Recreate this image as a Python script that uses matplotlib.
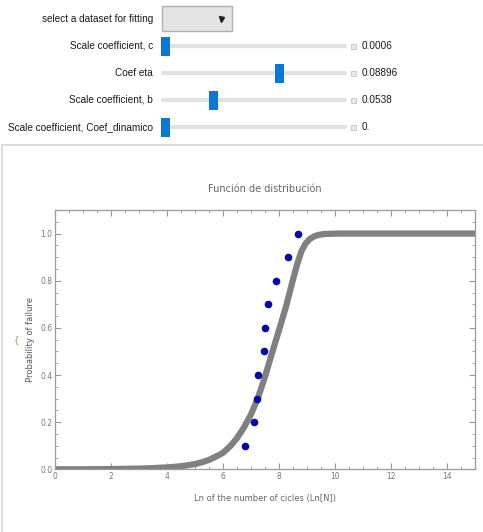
import matplotlib.pyplot as plt
from matplotlib.patches import Rectangle
from matplotlib.ticker import MultipleLocator

# data
slider_labels = ["Scale coefficient, c", "Coef eta", "Scale coefficient, b",
                 "Scale coefficient, Coef_dinamico"]
slider_values = ["0.0006", "0.08896", "0.0538", "0."]
slider_frac = [0.0, 0.62, 0.26, 0.0]  # handle position along the track

# observed points (ln N, probability of failure)
obs_x = [6.77, 7.09, 7.21, 7.24, 7.46, 7.50, 7.61, 7.90, 8.31, 8.69]
obs_y = [0.1, 0.2, 0.3, 0.4, 0.5, 0.6, 0.7, 0.8, 0.9, 1.0]

# fitted distribution curve
fit_x = [0, 1, 2, 3, 3.5, 4, 4.5, 5, 5.25, 5.5, 5.75, 6, 6.25, 6.5, 6.75,
         7.0, 7.25, 7.5, 7.75, 8.0, 8.25, 8.5, 8.65, 8.8, 8.95, 9.1, 9.25,
         9.4, 9.6, 9.8, 10.1, 10.5, 11, 15]
fit_y = [0, 0, 0.001, 0.003, 0.005, 0.008, 0.013, 0.022, 0.03, 0.04, 0.054,
         0.07, 0.097, 0.132, 0.178, 0.233, 0.303, 0.393, 0.493, 0.59, 0.69,
         0.805, 0.87, 0.925, 0.958, 0.977, 0.988, 0.994, 0.998, 0.999, 1.0,
         1.0, 1.0, 1.0]

W, H = 483, 532
fig = plt.figure(figsize=(W / 100, H / 100), dpi=100)
ui_font = "Liberation Sans"
ui_size = 7.2

# --- control panel drawn in pixel coords ---
ui = fig.add_axes([0, 0, 1, 1], zorder=0)
ui.set_xlim(0, W)
ui.set_ylim(H, 0)
ui.axis("off")

ui.text(153, 19, "select a dataset for fitting", ha="right", va="center",
        fontsize=ui_size, family=ui_font, color="#1a1a1a")
ui.add_patch(Rectangle((162, 6), 70, 25, facecolor="#e4e4e4",
                       edgecolor="#b0b0b0", lw=1))
ui.plot([221], [18.5], marker="v", ms=3.6, color="#202020")

track_x0, track_x1 = 161, 345
row_y = [46, 73, 100, 127]
for lab, val, f, y in zip(slider_labels, slider_values, slider_frac, row_y):
    ui.text(153, y, lab, ha="right", va="center", fontsize=ui_size,
            family=ui_font, color="#1a1a1a")
    ui.plot([track_x0 + 2, track_x1], [y, y], color="#e2e2e2", lw=3,
            solid_capstyle="round", zorder=1)
    hx = track_x0 + f * (track_x1 - track_x0)
    ui.add_patch(Rectangle((hx, y - 9.5), 9, 19, facecolor="#0a78d7",
                           edgecolor="none", zorder=3))
    ui.add_patch(Rectangle((350.5, y - 2.5), 5, 5, facecolor="#e8e8e8",
                           edgecolor="#c4c4c4", lw=0.6))
    ui.text(362, y, val, ha="left", va="center", fontsize=ui_size,
            family=ui_font, color="#1a1a1a")

# frame around the plot
ui.add_patch(Rectangle((2, 145), W + 10, H, facecolor="white",
                       edgecolor="#d6d6d6", lw=1.2))

# --- plot ---
ax = fig.add_axes([55 / W, 1 - 469.3 / H, 420 / W, 259.3 / H], zorder=1)
ax.plot(fit_x, fit_y, color="#808080", lw=4.5, solid_capstyle="butt",
        solid_joinstyle="round", zorder=2)
ax.plot(obs_x, obs_y, "o", color="#0808a8", ms=5.5, mec="none", zorder=3)

ax.set_xlim(0, 15)
ax.set_ylim(0, 1.1)
ax.xaxis.set_major_locator(MultipleLocator(2))
ax.xaxis.set_minor_locator(MultipleLocator(0.5))
ax.yaxis.set_minor_locator(MultipleLocator(0.05))
ax.set_yticks([0, 0.2, 0.4, 0.6, 0.8, 1.0])
ax.set_yticklabels(["0.0", "0.2", "0.4", "0.6", "0.8", "1.0"])
ax.tick_params(which="both", direction="in", top=True, right=True,
               color="#999999", labelsize=5.5, labelcolor="#777777", pad=2)
ax.tick_params(which="major", length=4, width=0.8)
ax.tick_params(which="minor", length=2, width=0.6)
for s in ax.spines.values():
    s.set_color("#999999")
    s.set_linewidth(0.9)

ax.set_title("Función de distribución", fontsize=7, color="#666666", pad=13)
ax.set_xlabel("Ln of the number of cicles (Ln[N])", fontsize=6,
              color="#666666", labelpad=9)
ax.set_ylabel("Probability of failure", fontsize=6, color="#555555",
              labelpad=4)
ui.text(17, 340, "{", ha="center", va="center", fontsize=6,
        color="#b88a50")

fig.savefig("out.png", dpi=100)
